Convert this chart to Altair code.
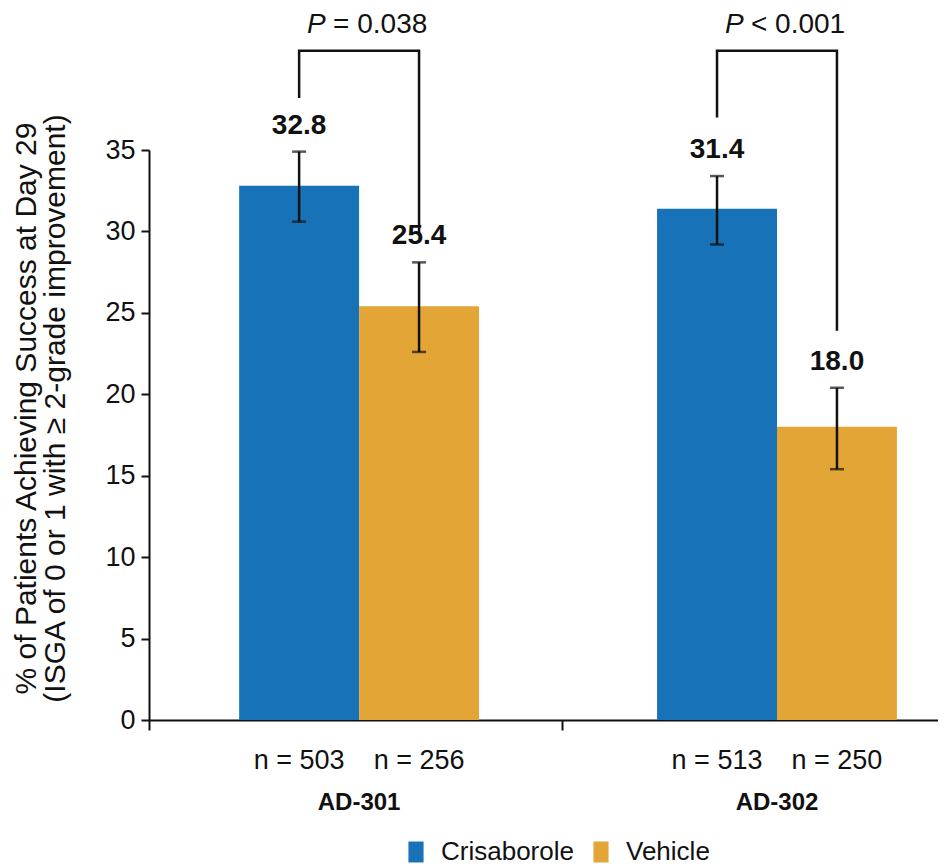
import altair as alt
import pandas as pd

# ---- data ----
groups = ["AD-301", "AD-301", "AD-302", "AD-302"]
treatments = ["Crisaborole", "Vehicle", "Crisaborole", "Vehicle"]
values = [32.8, 25.4, 31.4, 18.0]
ci_low = [30.6, 22.6, 29.2, 15.4]
ci_high = [34.9, 28.1, 33.4, 20.4]
n_patients = [503, 256, 513, 250]

studies = ["AD-301", "AD-302"]
arms = ["Crisaborole", "Vehicle"]
p_rest = ["= 0.038", "< 0.001"]
p_level = [42.2, 42.2]
bracket_top = [41.1, 41.1]
bracket_left_end = [38.2, 37.0]
bracket_right_end = [29.8, 23.9]
y_ticks = [0, 5, 10, 15, 20, 25, 30, 35]

colors = ["#1772b8", "#e3a535"]
FONT = "Liberation Sans"
INK = "#111111"

bars = pd.DataFrame({
    "group": groups, "treatment": treatments, "value": values,
    "lo": ci_low, "hi": ci_high,
    "label": [f"{v:.1f}" for v in values],
    "ntext": [f"n = {n}" for n in n_patients],
})

caps = pd.DataFrame({
    "group": groups + groups,
    "treatment": treatments + treatments,
    "end": ci_low + ci_high,
})

brk_rows = []
for s, top, le, re in zip(studies, bracket_top, bracket_left_end, bracket_right_end):
    brk_rows += [
        {"group": s, "treatment": "Crisaborole", "y": le, "step": 0},
        {"group": s, "treatment": "Crisaborole", "y": top, "step": 1},
        {"group": s, "treatment": "Vehicle", "y": top, "step": 2},
        {"group": s, "treatment": "Vehicle", "y": re, "step": 3},
    ]
bracket = pd.DataFrame(brk_rows)

plab = pd.DataFrame({"group": studies, "rest": p_rest, "y": p_level, "p": ["P", "P"]})

x_scale = alt.Scale(domain=studies, paddingInner=0.426, paddingOuter=0.157, align=0.687)
xo_scale = alt.Scale(domain=arms, paddingInner=0, paddingOuter=0)
y_scale = alt.Scale(domain=[0, 35], nice=False)

y_axis = alt.Axis(
    values=y_ticks, format="d",
    title=["% of Patients Achieving Success at Day 29",
           "(ISGA of 0 or 1 with \u2265 2-grade improvement)"],
    titleFont=FONT, titleFontSize=30, titleFontWeight="normal", titleColor=INK,
    titleLineHeight=29, titlePadding=34, titleY=258,
    labelFont=FONT, labelFontSize=27, labelColor=INK, labelPadding=6,
    tickSize=8, tickWidth=2, tickColor=INK,
    domainColor=INK, domainWidth=2, grid=False,
)

x_axis_main = alt.Axis(
    orient="bottom", title=None, labelAngle=0,
    labelFont=FONT, labelFontSize=24, labelFontWeight="bold", labelColor=INK,
    ticks=False, tickSize=0, labelPadding=70,
    domainColor=INK, domainWidth=2, grid=False,
)
x_axis_mid = alt.Axis(
    orient="bottom", title=None, values=["AD-301"], bandPosition=1.35,
    labels=False, domain=False, ticks=True, tickSize=10, tickWidth=2,
    tickColor=INK, grid=False,
)
x_axis_origin = alt.Axis(
    orient="bottom", title=None, values=["AD-301"], bandPosition=-0.375,
    labels=False, domain=False, ticks=True, tickSize=10, tickWidth=2,
    tickColor=INK, grid=False,
)

X = lambda axis: alt.X("group:N", scale=x_scale, sort=studies, axis=axis)
XO = alt.XOffset("treatment:N", scale=xo_scale, sort=arms)
Y = lambda field: alt.Y(field, scale=y_scale, axis=y_axis)

bar_layer = alt.Chart(bars).mark_bar().encode(
    x=X(x_axis_main),
    xOffset=XO,
    y=Y("value:Q"),
    color=alt.Color(
        "treatment:N", sort=arms,
        scale=alt.Scale(domain=arms, range=colors),
        legend=alt.Legend(
            orient="none", legendX=254, legendY=689, direction="horizontal",
            title=None, labelFont=FONT, labelFontSize=26, labelColor=INK,
            symbolType="M-0.72,-1H0.72V1H-0.72Z", symbolSize=441,
            symbolStrokeWidth=0, symbolOpacity=1, labelOffset=12,
            columnPadding=14, padding=0,
        ),
    ),
)

err_layer = alt.Chart(bars).mark_rule(color=INK, strokeWidth=2.5).encode(
    x=X(x_axis_mid),
    xOffset=XO,
    y=Y("lo:Q"),
    y2="hi:Q",
)

cap_layer = alt.Chart(caps).mark_tick(color=INK, thickness=2.5, size=14).encode(
    x=X(x_axis_origin),
    xOffset=XO,
    y=Y("end:Q"),
)

val_layer = alt.Chart(bars).mark_text(
    font=FONT, fontSize=28, fontWeight="bold", color=INK,
    baseline="alphabetic", dy=-18,
).encode(
    x=X(None), xOffset=XO,
    y=Y("hi:Q"),
    text="label:N",
)

n_layer = alt.Chart(bars).mark_text(
    font=FONT, fontSize=27, color=INK, baseline="alphabetic",
).encode(
    x=X(None), xOffset=XO,
    y=alt.Y(datum=-3.0, scale=y_scale, axis=y_axis),
    text="ntext:N",
)

bracket_layer = alt.Chart(bracket).mark_line(
    color=INK, strokeWidth=2.5, strokeJoin="miter", strokeCap="butt",
).encode(
    x=X(None), xOffset=XO,
    y=Y("y:Q"),
    order="step:Q",
    detail="group:N",
)

p_italic = alt.Chart(plab).mark_text(
    font=FONT, fontSize=28, fontStyle="italic", color=INK,
    baseline="alphabetic", align="left", dx=-52,
).encode(
    x=X(None),
    y=Y("y:Q"),
    text="p:N",
)

p_rest_layer = alt.Chart(plab).mark_text(
    font=FONT, fontSize=28, color=INK,
    baseline="alphabetic", align="left", dx=-26,
).encode(
    x=X(None),
    y=Y("y:Q"),
    text="rest:N",
)

chart = alt.layer(
    bar_layer, err_layer, cap_layer, val_layer, n_layer,
    bracket_layer, p_italic, p_rest_layer,
).resolve_axis(x="independent").properties(
    width=789, height=570,
    padding={"left": 3, "top": 2, "right": 0, "bottom": 0},
    background="white",
).configure_view(stroke=None)

chart.save("out.html", embed_options={"renderer": "svg", "actions": False})
